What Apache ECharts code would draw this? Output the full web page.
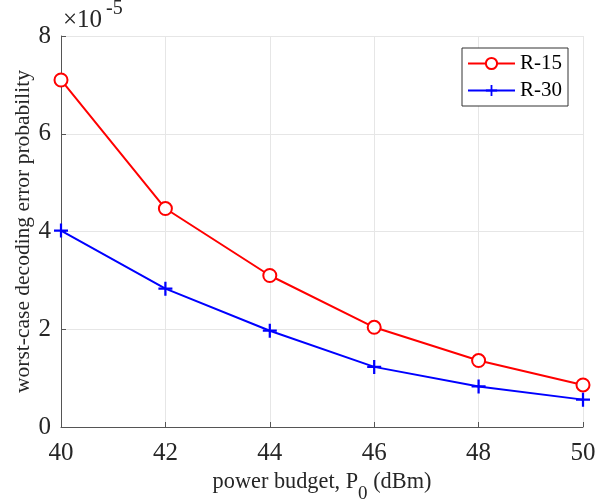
<!DOCTYPE html>
<html>
<head>
<meta charset="utf-8">
<script src="https://cdn.jsdelivr.net/npm/echarts@6/dist/echarts.min.js"></script>
<style>html,body{margin:0;padding:0;background:#fff;}#c{width:608px;height:499px;}</style>
</head>
<body>
<div id="c"></div>
<script>
var powerBudget = [40, 42, 44, 46, 48, 50];
var r15 = [7.10, 4.47, 3.10, 2.04, 1.36, 0.86];
var r30 = [4.02, 2.83, 1.97, 1.23, 0.83, 0.56];
var seriesNames = ['R-15', 'R-30'];
var yExponentLabel = ['\u00d710', '-5'];

var FONT = '"Liberation Serif", "Times New Roman", serif';
var plusPath = 'path://M-1.6,-10 L1.6,-10 L1.6,-1.6 L10,-1.6 L10,1.6 L1.6,1.6 L1.6,10 L-1.6,10 L-1.6,1.6 L-10,1.6 L-10,-1.6 L-1.6,-1.6 Z';

function pairs(xs, ys) { return xs.map(function (x, i) { return [x, ys[i]]; }); }

var chart = echarts.init(document.getElementById('c'), null, { renderer: 'canvas' });
chart.setOption({
  backgroundColor: '#fff',
  animation: false,
  grid: { left: 61, right: 25, top: 36, bottom: 72, containLabel: false, outerBoundsMode: 'none' },
  xAxis: {
    type: 'value', min: 40, max: 50, interval: 2,
    name: '{a|power budget, P}{s|0}{a| (dBm)}',
    nameLocation: 'middle', nameGap: 29,
    nameTextStyle: {
      rich: {
        a: { fontFamily: FONT, fontSize: 22.3, color: '#262626' },
        s: { fontFamily: FONT, fontSize: 19, color: '#262626', verticalAlign: 'bottom', padding: [24, 0, 0, 0] }
      }
    },
    axisLine: { show: true, lineStyle: { color: '#555', width: 1 } },
    axisTick: { show: true, inside: true, length: 5, lineStyle: { color: '#555' } },
    axisLabel: { fontFamily: FONT, fontSize: 25, color: '#262626', margin: 14 },
    splitLine: { show: true, lineStyle: { color: '#e6e6e6', width: 1 } }
  },
  yAxis: {
    type: 'value', min: 0, max: 8, interval: 2,
    name: 'worst-case decoding error probability',
    nameLocation: 'middle', nameGap: 27, nameMoveOverlap: false,
    nameTextStyle: { fontFamily: FONT, fontSize: 21.5, color: '#262626' },
    axisLine: { show: true, lineStyle: { color: '#555', width: 1 } },
    axisTick: { show: true, inside: true, length: 5, lineStyle: { color: '#555' } },
    axisLabel: { fontFamily: FONT, fontSize: 25, color: '#262626', margin: 10 },
    splitLine: { show: true, lineStyle: { color: '#e6e6e6', width: 1 } }
  },
  legend: {
    orient: 'vertical', left: 462, top: 48,
    padding: [5, 6, 5, 5], itemGap: 6, itemWidth: 47, itemHeight: 14,
    backgroundColor: '#fff', borderColor: '#333', borderWidth: 1,
    textStyle: { fontFamily: FONT, fontSize: 21, color: '#000' },
    data: seriesNames
  },
  graphic: [
    { type: 'text', left: 63, top: 8, style: { text: yExponentLabel[0], font: '25px ' + FONT, fill: '#262626' } },
    { type: 'text', left: 106, top: -1, style: { text: yExponentLabel[1], font: '20px ' + FONT, fill: '#262626' } }
  ],
  series: [
    {
      name: seriesNames[0], type: 'line', data: pairs(powerBudget, r15),
      symbol: 'emptyCircle', symbolSize: 13,
      lineStyle: { color: '#ff0000', width: 2 },
      itemStyle: { color: '#ff0000', borderColor: '#ff0000', borderWidth: 2 }
    },
    {
      name: seriesNames[1], type: 'line', data: pairs(powerBudget, r30),
      symbol: plusPath, symbolSize: 14,
      lineStyle: { color: '#0000ff', width: 2 },
      itemStyle: { color: '#0000ff', borderWidth: 0 }
    }
  ]
});
</script>
</body>
</html>
